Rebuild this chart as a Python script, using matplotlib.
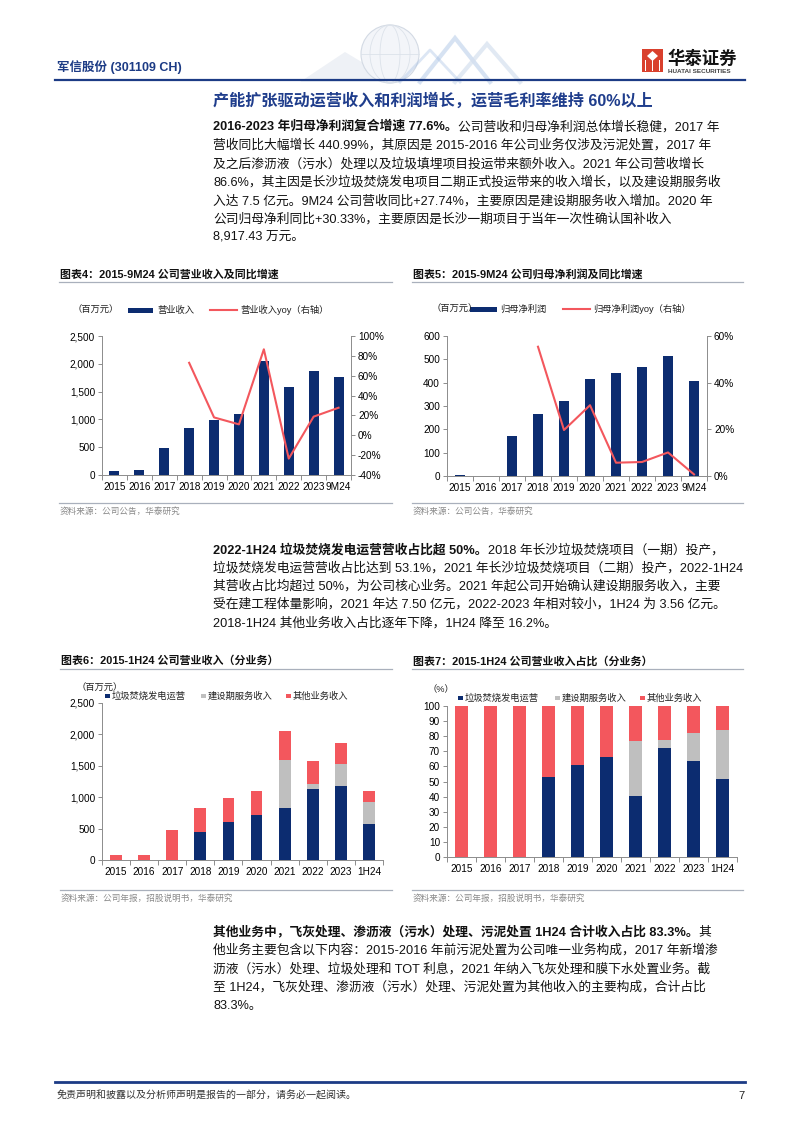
import numpy as np
import matplotlib
matplotlib.use("Agg")
import matplotlib.pyplot as plt
import matplotlib.patches as patches
from matplotlib.ticker import FuncFormatter

plt.rcParams["font.family"] = ["Liberation Sans", "Noto Sans CJK SC"]
plt.rcParams["axes.unicode_minus"] = False

W, H = 802, 1133
NAVY = "#0C2C70"
RED = "#F3575D"
LIGHT = "#BFBFBF"
HEAD = "#1C3B85"
AXC = "#8C8C8C"

# ---- data ----
years_9m = ["2015", "2016", "2017", "2018", "2019", "2020", "2021", "2022", "2023", "9M24"]
revenue = [78, 90, 486, 846, 996, 1104, 2058, 1578, 1866, 1758]          # 百万元
revenue_yoy = [np.nan, np.nan, np.nan, 73.0, 18.0, 11.0, 86.6, -23.5, 18.8, 27.74]  # %
net_profit = [4, 1, 171, 267, 320, 416, 440, 467, 516, 409]               # 百万元
net_profit_yoy = [np.nan, np.nan, np.nan, 55.4, 19.7, 30.33, 5.7, 6.0, 10.1, 0.7]   # %

years_1h = ["2015", "2016", "2017", "2018", "2019", "2020", "2021", "2022", "2023", "1H24"]
seg_power = [0, 0, 0, 441, 601, 723, 830, 1133, 1181, 574]     # 垃圾焚烧发电运营
seg_build = [0, 0, 0, 0, 0, 0, 755, 80, 346, 352]              # 建设期服务收入
seg_other = [80, 85, 484, 394, 394, 373, 474, 356, 329, 180]   # 其他业务收入

share_power = [0, 0, 0, 53.1, 60.6, 66.0, 40.3, 72.2, 63.6, 51.9]
share_build = [0, 0, 0, 0, 0, 0, 36.7, 5.3, 18.6, 31.9]
share_other = [100, 100, 100, 46.9, 39.4, 34.0, 23.0, 22.5, 17.8, 16.2]

para1 = [
    [("2016-2023 年归母净利润复合增速 77.6%。", True), ("公司营收和归母净利润总体增长稳健，2017 年", False)],
    [("营收同比大幅增长 440.99%，其原因是 2015-2016 年公司业务仅涉及污泥处置，2017 年", False)],
    [("及之后渗沥液（污水）处理以及垃圾填埋项目投运带来额外收入。2021 年公司营收增长", False)],
    [("86.6%，其主因是长沙垃圾焚烧发电项目二期正式投运带来的收入增长，以及建设期服务收", False)],
    [("入达 7.5 亿元。9M24 公司营收同比+27.74%，主要原因是建设期服务收入增加。2020 年", False)],
    [("公司归母净利同比+30.33%，主要原因是长沙一期项目于当年一次性确认国补收入", False)],
    [("8,917.43 万元。", False)],
]
para2 = [
    [("2022-1H24 垃圾焚烧发电运营营收占比超 50%。", True), ("2018 年长沙垃圾焚烧项目（一期）投产，", False)],
    [("垃圾焚烧发电运营营收占比达到 53.1%，2021 年长沙垃圾焚烧项目（二期）投产，2022-1H24", False)],
    [("其营收占比均超过 50%，为公司核心业务。2021 年起公司开始确认建设期服务收入，主要", False)],
    [("受在建工程体量影响，2021 年达 7.50 亿元，2022-2023 年相对较小，1H24 为 3.56 亿元。", False)],
    [("2018-1H24 其他业务收入占比逐年下降，1H24 降至 16.2%。", False)],
]
para3 = [
    [("其他业务中，飞灰处理、渗沥液（污水）处理、污泥处置 1H24 合计收入占比 83.3%。", True), ("其", False)],
    [("他业务主要包含以下内容：2015-2016 年前污泥处置为公司唯一业务构成，2017 年新增渗", False)],
    [("沥液（污水）处理、垃圾处理和 TOT 利息，2021 年纳入飞灰处理和膜下水处置业务。截", False)],
    [("至 1H24，飞灰处理、渗沥液（污水）处理、污泥处置为其他收入的主要构成，合计占比", False)],
    [("83.3%。", False)],
]

fig = plt.figure(figsize=(W / 100, H / 100), dpi=100)
pg = fig.add_axes([0, 0, 1, 1])
pg.set_xlim(0, W)
pg.set_ylim(H, 0)
pg.axis("off")


def px_axes(x0, y0, x1, y1):
    return fig.add_axes([x0 / W, 1 - y1 / H, (x1 - x0) / W, (y1 - y0) / H])


def para(lines, y0, step, x=213, size=9.2):
    for i, segs in enumerate(lines):
        y = y0 + i * step
        prev = None
        for txt, bold in segs:
            kw = dict(fontsize=size, fontweight="bold" if bold else "normal",
                      va="center", ha="left", color="#111111")
            if prev is None:
                prev = pg.text(x, y, txt, **kw)
            else:
                prev = pg.annotate(txt, xy=(1, 0.5), xycoords=prev, **kw)


def base_axes(ax, cats, ylim, yticks, fmt):
    ax.set_facecolor("none")
    ax.set_xlim(-0.5, len(cats) - 0.5)
    ax.set_ylim(*ylim)
    ax.set_xticks(range(len(cats)))
    ax.set_xticklabels(cats, fontsize=7.2)
    ax.set_xticks(np.arange(len(cats) + 1) - 0.5, minor=True)
    ax.tick_params(axis="x", which="major", length=0, pad=5)
    ax.tick_params(axis="x", which="minor", length=3.5, color=AXC, width=0.7)
    ax.set_yticks(yticks)
    ax.yaxis.set_major_formatter(FuncFormatter(fmt))
    ax.tick_params(axis="y", length=3, color=AXC, width=0.7, labelsize=7.2, pad=2)
    for s in ["top", "right"]:
        ax.spines[s].set_visible(False)
    for s in ["left", "bottom"]:
        ax.spines[s].set_color(AXC)
        ax.spines[s].set_linewidth(0.7)


def right_axes(ax, ylim, yticks):
    ax2 = ax.twinx()
    ax2.set_ylim(*ylim)
    ax2.set_yticks(yticks)
    ax2.yaxis.set_major_formatter(FuncFormatter(lambda v, p: f"{v:.0f}%"))
    ax2.tick_params(axis="y", length=3, color=AXC, width=0.7, labelsize=7.2, pad=2)
    for s in ["top", "left", "bottom"]:
        ax2.spines[s].set_visible(False)
    ax2.spines["right"].set_color(AXC)
    ax2.spines["right"].set_linewidth(0.7)
    return ax2


def chart_frame(x0, x1, title, title_y, src, src_y):
    pg.text(x0, title_y, title, fontsize=7.9, fontweight="bold", va="center", color="#111111")
    pg.plot([x0 - 1, x1], [title_y + 8, title_y + 8], color="#A9B0BC", lw=0.9)
    pg.plot([x0 - 1, x1], [src_y - 8, src_y - 8], color="#A9B0BC", lw=0.9)
    pg.text(x0, src_y, src, fontsize=6.2, va="center", color="#8A8A8A")


fmt_thousands = lambda v, p: f"{v:,.0f}"
LEG = 6.7

# ---- header ----
# faint globe / mountain decoration
pg.add_patch(patches.Polygon([(300, 82), (345, 52), (395, 82)], closed=True, fc="#EEF1F6", ec="none"))
pg.add_patch(patches.Circle((390, 54), 29, fc="#F3F5F9", ec="#D3DAE4", lw=0.8))
for w in (10, 20):
    pg.add_patch(patches.Ellipse((390, 54), w * 2, 58, fc="none", ec="#DCE2EA", lw=0.6))
pg.plot([361, 419], [54, 54], color="#DCE2EA", lw=0.6)
pg.plot([420, 455, 490], [82, 38, 82], color="#BCD0EA", lw=3, alpha=0.6, solid_joinstyle="miter")
pg.plot([455, 487, 520], [82, 44, 82], color="#D5E0EF", lw=3, alpha=0.7, solid_joinstyle="miter")
pg.plot([400, 430, 460], [82, 50, 82], color="#9DB9E0", lw=2, alpha=0.35)

pg.text(57, 67, "军信股份 (301109 CH)", fontsize=9, fontweight="bold", color=HEAD, va="center")
pg.add_patch(patches.Rectangle((642, 49), 21, 23, fc="#D9402D", ec="none"))
pg.add_patch(patches.Polygon([(647, 56), (652.5, 51), (658, 56), (652.5, 61)], fc="white", ec="none"))
for xx in (645.5, 652.5, 659.5):
    pg.add_patch(patches.Rectangle((xx - 0.8, 60), 1.6, 11, fc="white", ec="none"))
pg.text(667, 58, "华泰证券", fontsize=12.5, fontweight="bold", color="#111111", va="center")
pg.text(668, 71.5, "HUATAI SECURITIES", fontsize=4.6, fontweight="bold", color="#444444", va="center")
pg.plot([55, 745], [80, 80], color=HEAD, lw=1.6)

pg.text(213, 101, "产能扩张驱动运营收入和利润增长，运营毛利率维持 60%以上",
        fontsize=11.6, fontweight="bold", color="#1F3D8C", va="center")

para(para1, 127, 18.5)
para(para2, 550, 18.3)
para(para3, 932, 18.5)

# ---- 图表4 ----
chart_frame(60, 392, "图表4：2015-9M24 公司营业收入及同比增速", 274, "资料来源：公司公告，华泰研究", 511)
ax4 = px_axes(102, 336, 351, 475)
base_axes(ax4, years_9m, (0, 2500), np.arange(0, 2501, 500), fmt_thousands)
ax4.bar(range(len(years_9m)), revenue, width=0.4, color=NAVY, zorder=2)
ax4b = right_axes(ax4, (-40, 100), np.arange(-40, 101, 20))
ax4b.plot(range(len(years_9m)), revenue_yoy, color=RED, lw=1.5, zorder=3)
pg.text(73, 310, "（百万元）", fontsize=LEG, va="center", color="#222222")
pg.add_patch(patches.Rectangle((128, 307.5), 25, 5, fc=NAVY, ec="none"))
pg.text(157, 310, "营业收入", fontsize=LEG, va="center", color="#222222")
pg.plot([210, 237], [310, 310], color=RED, lw=1.5)
pg.text(240, 310, "营业收入yoy（右轴）", fontsize=LEG, va="center", color="#222222")

# ---- 图表5 ----
chart_frame(413, 743, "图表5：2015-9M24 公司归母净利润及同比增速", 274, "资料来源：公司公告，华泰研究", 511)
ax5 = px_axes(447, 336, 707, 476)
base_axes(ax5, years_9m, (0, 600), np.arange(0, 601, 100), lambda v, p: f"{v:.0f}")
ax5.bar(range(len(years_9m)), net_profit, width=0.38, color=NAVY, zorder=2)
ax5b = right_axes(ax5, (0, 60), np.arange(0, 61, 20))
ax5b.plot(range(len(years_9m)), net_profit_yoy, color=RED, lw=1.5, zorder=3)
pg.text(432, 309, "（百万元）", fontsize=LEG, va="center", color="#222222")
pg.add_patch(patches.Rectangle((470, 306.5), 27, 5, fc=NAVY, ec="none"))
pg.text(500, 309, "归母净利润", fontsize=LEG, va="center", color="#222222")
pg.plot([563, 590], [309, 309], color=RED, lw=1.5)
pg.text(593, 309, "归母净利润yoy（右轴）", fontsize=LEG, va="center", color="#222222")

# ---- 图表6 ----
chart_frame(61, 392, "图表6：2015-1H24 公司营业收入（分业务）", 661, "资料来源：公司年报，招股说明书，华泰研究", 898)
ax6 = px_axes(102, 703, 383, 860)
base_axes(ax6, years_1h, (0, 2500), np.arange(0, 2501, 500), fmt_thousands)
x6 = np.arange(len(years_1h))
b1 = np.array(seg_power)
b2 = b1 + np.array(seg_build)
ax6.bar(x6, seg_power, width=0.42, color=NAVY, zorder=2)
ax6.bar(x6, seg_build, width=0.42, bottom=b1, color=LIGHT, zorder=2)
ax6.bar(x6, seg_other, width=0.42, bottom=b2, color=RED, zorder=2)
pg.text(77, 688, "（百万元）", fontsize=LEG, va="center", color="#222222")
for sx, col, lab in [(105, NAVY, "垃圾焚烧发电运营"), (201, LIGHT, "建设期服务收入"), (286, RED, "其他业务收入")]:
    pg.add_patch(patches.Rectangle((sx, 693.5), 4.5, 4.5, fc=col, ec="none"))
    pg.text(sx + 7, 696, lab, fontsize=LEG, va="center", color="#222222")

# ---- 图表7 ----
chart_frame(413, 743, "图表7：2015-1H24 公司营业收入占比（分业务）", 661, "资料来源：公司年报，招股说明书，华泰研究", 898)
ax7 = px_axes(447, 706, 737, 857)
base_axes(ax7, years_1h, (0, 100), np.arange(0, 101, 10), lambda v, p: f"{v:.0f}")
p1 = np.array(share_power)
p2 = p1 + np.array(share_build)
ax7.bar(x6, share_power, width=0.46, color=NAVY, zorder=2)
ax7.bar(x6, share_build, width=0.46, bottom=p1, color=LIGHT, zorder=2)
ax7.bar(x6, share_other, width=0.46, bottom=p2, color=RED, zorder=2)
pg.text(428, 690, "（%）", fontsize=LEG, va="center", color="#222222")
for sx, col, lab in [(458, NAVY, "垃圾焚烧发电运营"), (555, LIGHT, "建设期服务收入"), (640, RED, "其他业务收入")]:
    pg.add_patch(patches.Rectangle((sx, 695.5), 4.5, 4.5, fc=col, ec="none"))
    pg.text(sx + 7, 698, lab, fontsize=LEG, va="center", color="#222222")

# ---- footer ----
pg.plot([55, 745], [1082, 1082], color=HEAD, lw=2)
pg.text(57, 1096, "免责声明和披露以及分析师声明是报告的一部分，请务必一起阅读。",
        fontsize=7.2, style="italic", color="#333333", va="center")
pg.text(745, 1096, "7", fontsize=8, color="#222222", va="center", ha="right")

fig.savefig("out.png", dpi=100)
plt.close(fig)
